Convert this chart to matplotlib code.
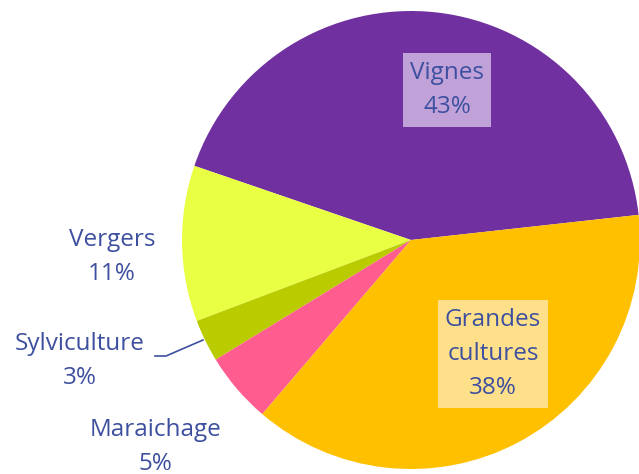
import matplotlib.pyplot as plt

# data
labels = ['Vignes', 'Vergers', 'Sylviculture', 'Maraichage', 'Grandes\ncultures']
values = [43, 11, 3, 5, 38]
colors = ['#7030A0', '#E8FF44', '#BACC00', '#FF5C8F', '#FFC000']

text_color = '#3D4F9F'
W, H = 639, 474

plt.rcParams['font.family'] = ['Open Sans', 'DejaVu Sans']

fig = plt.figure(figsize=(6.39, 4.74), dpi=100)
ax = fig.add_axes([0, 0, 1, 1])
ax.set_xlim(0, W)
ax.set_ylim(0, H)
ax.set_aspect('equal')
ax.axis('off')

wedges, _ = ax.pie(values, colors=colors, startangle=6.3, counterclock=True,
                   center=(411, H - 240), radius=229,
                   wedgeprops=dict(linewidth=0))
ax.set_xlim(0, W)
ax.set_ylim(0, H)

def pct_label(i, x, y, box=None):
    s = labels[i] + '\n' + str(values[i]) + '%'
    kw = dict(ha='center', va='center', fontsize=17.5, color=text_color,
              linespacing=1.58)
    if box is not None:
        kw['bbox'] = dict(boxstyle='square,pad=0.3', facecolor=box,
                          edgecolor='none')
    ax.text(x, H - y, s, **kw)

pct_label(0, 447, 90, box='#C0A2D8')
pct_label(4, 493, 354, box='#FFE08A')
pct_label(1, 112, 257)
pct_label(2, 80, 361)
pct_label(3, 155, 447)

# leader line for Sylviculture
ax.plot([155, 166, 203], [H - 356, H - 356, H - 340], color=text_color,
        linewidth=1.2)

fig.savefig('out.png', dpi=100)
